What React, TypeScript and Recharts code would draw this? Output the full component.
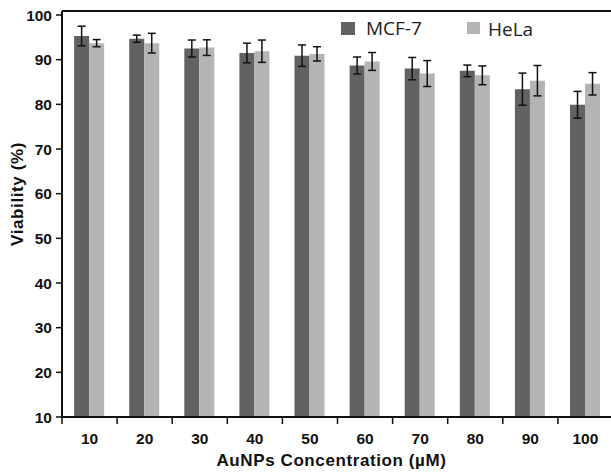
import React from 'react';
import { BarChart, Bar, XAxis, YAxis, ErrorBar, ReferenceLine, Legend } from 'recharts';

const concentrations = ['10', '20', '30', '40', '50', '60', '70', '80', '90', '100'];
const mcf7 = [95.3, 94.7, 92.5, 91.5, 90.9, 88.7, 88.0, 87.5, 83.4, 79.9];
const mcf7Err = [2.2, 0.8, 1.9, 2.2, 2.4, 1.9, 2.5, 1.3, 3.6, 3.0];
const hela = [93.7, 93.7, 92.7, 91.9, 91.3, 89.6, 86.9, 86.5, 85.3, 84.6];
const helaErr = [0.8, 2.2, 1.75, 2.5, 1.6, 2.0, 2.9, 2.1, 3.4, 2.5];
const yTicks = [10, 20, 30, 40, 50, 60, 70, 80, 90, 100];

const data = concentrations.map((c, i) => ({
  conc: c,
  mcf7: mcf7[i],
  mcf7Err: mcf7Err[i],
  hela: hela[i],
  helaErr: helaErr[i],
}));

const CHART_W = 640;
const CHART_H = 472;
const MARGIN = { top: 11, right: 27, bottom: 0, left: 0 };
const Y_W = 62;
const PLOT_W = CHART_W - MARGIN.left - MARGIN.right - Y_W;
const BAND = PLOT_W / concentrations.length;

const AXIS_FONT = '"Liberation Sans", Arial, sans-serif';
const INK = '#111';
const DARK = '#616261';
const LIGHT = '#b4b4b4';

const XTick = (props: any) => {
  const { x, y, payload, index } = props;
  return (
    <g>
      {index === 0 && (
        <line x1={x - BAND / 2} y1={y} x2={x - BAND / 2} y2={y + 7} stroke={INK} strokeWidth={1.5} />
      )}
      <line x1={x + BAND / 2} y1={y} x2={x + BAND / 2} y2={y + 7} stroke={INK} strokeWidth={1.5} />
      <text x={x} y={y + 27} textAnchor="middle" fontFamily={AXIS_FONT} fontWeight="bold" fontSize={15.5} fill={INK}>
        {payload.value}
      </text>
    </g>
  );
};

const XLabel = (props: any) => {
  const vb = props.viewBox || { x: 62, y: 417, width: 551, height: 55 };
  return (
    <text
      x={vb.x + vb.width / 2 - 6}
      y={vb.y + 49}
      textAnchor="middle"
      fontFamily={AXIS_FONT}
      fontWeight="bold"
      fontSize={17}
      letterSpacing={0.6}
      fill={INK}
    >
      AuNPs Concentration (µM)
    </text>
  );
};

const YLabel = (props: any) => {
  const vb = props.viewBox || { x: 0, y: 11, width: 62, height: 406 };
  const cx = vb.x + 17;
  const cy = vb.y + vb.height / 2 - 20;
  return (
    <text
      x={cx}
      y={cy}
      transform={`rotate(-90 ${cx} ${cy})`}
      textAnchor="middle"
      dominantBaseline="central"
      fontFamily={AXIS_FONT}
      fontWeight="bold"
      fontSize={17}
      letterSpacing={0.6}
      fill={INK}
    >
      Viability (%)
    </text>
  );
};

const legendLayout: Record<string, any> = {
  'MCF-7': { sqLeft: 341, sqTop: 22, sqW: 14, sqH: 13, textLeft: 366, textTop: 18.5 },
  HeLa: { sqLeft: 467, sqTop: 22, sqW: 13, sqH: 12, textLeft: 488, textTop: 20 },
};

const LegendContent = (props: any) => {
  const payload = props.payload || [];
  return (
    <div style={{ position: 'relative', width: 611, height: 45 }}>
      {payload.map((p: any, i: number) => {
        const l = legendLayout[p.value] || legendLayout['MCF-7'];
        return (
          <React.Fragment key={i}>
            <div
              style={{
                position: 'absolute',
                left: l.sqLeft,
                top: l.sqTop,
                width: l.sqW,
                height: l.sqH,
                background: p.color,
              }}
            />
            <div
              style={{
                position: 'absolute',
                left: l.textLeft,
                top: l.textTop,
                fontFamily: '"Open Sans", sans-serif',
                fontSize: 19,
                lineHeight: '19px',
                color: '#222',
                whiteSpace: 'nowrap',
              }}
            >
              {p.value}
            </div>
          </React.Fragment>
        );
      })}
    </div>
  );
};

export default function App() {
  return (
    <div
      style={{
        position: 'absolute',
        left: 0,
        top: 0,
        width: 611,
        height: 472,
        overflow: 'hidden',
        background: '#fff',
      }}
    >
      <BarChart
        width={CHART_W}
        height={CHART_H}
        data={data}
        margin={MARGIN}
        barCategoryGap="22%"
        barGap={0}
      >
        <XAxis
          dataKey="conc"
          height={55}
          tickSize={0}
          tickMargin={0}
          tickLine={false}
          interval={0}
          axisLine={{ stroke: INK, strokeWidth: 2 }}
          tick={<XTick />}
          label={<XLabel />}
        />
        <YAxis
          type="number"
          width={Y_W}
          domain={[10, 100.9]}
          ticks={yTicks}
          allowDataOverflow
          tickSize={6}
          tickMargin={4}
          tickLine={{ stroke: INK, strokeWidth: 1.5 }}
          axisLine={{ stroke: INK, strokeWidth: 2 }}
          tick={{ fontSize: 15.5, fontWeight: 'bold', fill: INK, fontFamily: AXIS_FONT }}
          label={<YLabel />}
        />
        <ReferenceLine y={100.9} stroke={INK} strokeWidth={2} />
        <Legend
          layout="horizontal"
          verticalAlign="middle"
          align="center"
          wrapperStyle={{ top: 0, left: 0, width: 611 }}
          content={<LegendContent />}
        />
        <Bar dataKey="mcf7" name="MCF-7" fill={DARK} isAnimationActive={false}>
          <ErrorBar dataKey="mcf7Err" width={4} stroke={INK} strokeWidth={1.5} />
        </Bar>
        <Bar dataKey="hela" name="HeLa" fill={LIGHT} isAnimationActive={false}>
          <ErrorBar dataKey="helaErr" width={4} stroke={INK} strokeWidth={1.5} />
        </Bar>
      </BarChart>
    </div>
  );
}
